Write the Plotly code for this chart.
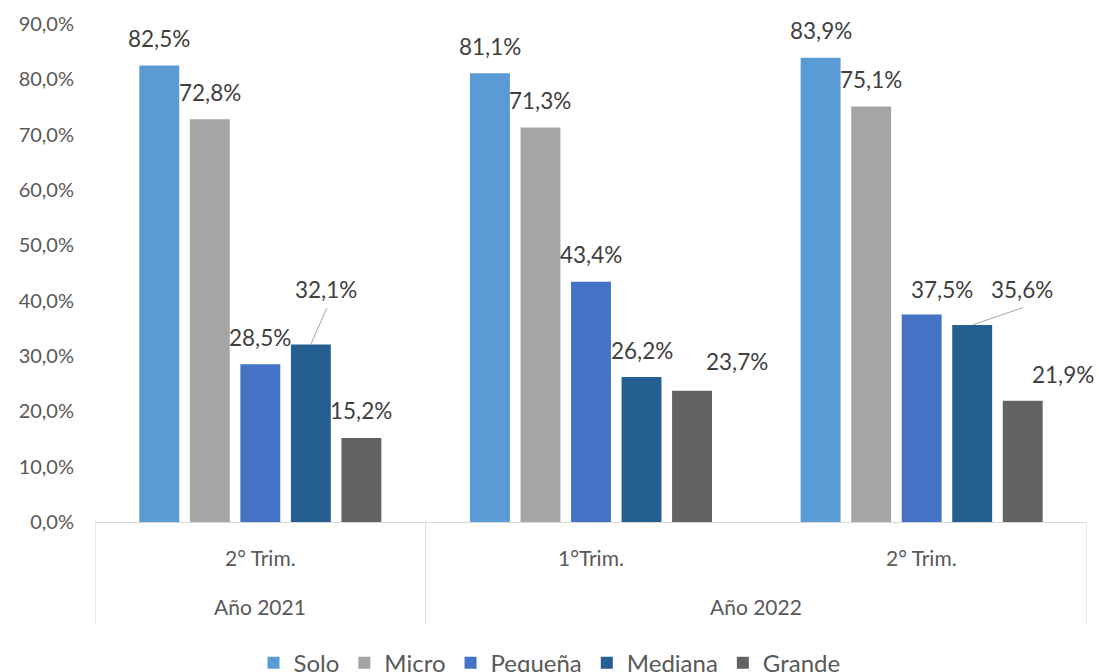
import plotly.graph_objects as go

# ---- data ----
years = ["Año 2021", "Año 2022", "Año 2022"]
quarters = ["2° Trim.", "1°Trim.", "2° Trim."]
series_names = ["Solo", "Micro", "Pequeña", "Mediana", "Grande"]
solo = [82.5, 81.1, 83.9]
micro = [72.8, 71.3, 75.1]
pequena = [28.5, 43.4, 37.5]
mediana = [32.1, 26.2, 35.6]
grande = [15.2, 23.7, 21.9]
series_values = [solo, micro, pequena, mediana, grande]

# ---- styling ----
colors = ["#5B9BD5", "#A5A5A5", "#4472C4", "#255E91", "#636363"]
FONT = "Lato"
BARGAP = 0.236
BARGROUPGAP = 0.21
# label offsets (px): (series index, category index) -> (dx, dy_extra, leader)
label_offsets = {
    (3, 0): (15, 27.5, True),
    (4, 1): (45, 2.5, False),
    (2, 2): (20, -2, False),
    (3, 2): (50, 8.5, True),
    (4, 2): (40, -1, False),
}
BASE_DY = 27

keys = [f"{y} | {q}" for y, q in zip(years, quarters)]
n_series = len(series_names)

fig = go.Figure()
for name, vals, col in zip(series_names, series_values, colors):
    fig.add_trace(go.Bar(
        x=keys, y=[v / 100 for v in vals], name=name,
        marker=dict(color=col, line=dict(width=0)),
        hoverinfo="skip",
    ))

slot = (1 - BARGAP) / n_series
annotations = []
shapes = []
for k, vals in enumerate(series_values):
    for i, v in enumerate(vals):
        xpos = i - (1 - BARGAP) / 2 + (k + 0.5) * slot
        dx, dy_extra, leader = label_offsets.get((k, i), (0, 0, False))
        dy = BASE_DY + dy_extra
        txt = f"{v:.1f}%".replace(".", ",")
        annotations.append(dict(
            x=xpos, y=v / 100, xref="x", yref="y", text=txt, showarrow=False,
            xanchor="center", yanchor="middle", xshift=dx, yshift=dy,
            font=dict(family=FONT, size=22.5, color="#404040"),
        ))
        if leader:
            shapes.append(dict(
                type="line", xref="x", yref="y",
                xsizemode="pixel", ysizemode="pixel",
                xanchor=xpos, yanchor=v / 100,
                x0=0, y0=0, x1=dx + 1, y1=dy - 18,
                line=dict(color="#A6A6A6", width=1),
            ))

# quarter labels (first row)
for i, q in enumerate(quarters):
    annotations.append(dict(
        x=i, y=0, xref="x", yref="paper", text=q, showarrow=False,
        xanchor="center", yanchor="middle", yshift=-35,
        font=dict(family=FONT, size=21, color="#595959"),
    ))

# year labels (second row) and separators
groups = []
for i, y in enumerate(years):
    if groups and groups[-1][0] == y:
        groups[-1][1].append(i)
    else:
        groups.append((y, [i]))
bounds = [-0.5]
for y, idx in groups:
    annotations.append(dict(
        x=sum(idx) / len(idx), y=0, xref="x", yref="paper", text=y,
        showarrow=False, xanchor="center", yanchor="middle", yshift=-84,
        font=dict(family=FONT, size=21, color="#595959"),
    ))
    bounds.append(idx[-1] + 0.5)
for b in bounds:
    shapes.append(dict(
        type="line", xref="x", yref="paper", ysizemode="pixel", yanchor=0,
        x0=b, x1=b, y0=0, y1=-103, line=dict(color="#D9D9D9", width=1),
    ))

fig.update_layout(
    width=1099, height=672,
    margin=dict(l=95, r=12, t=24, b=150, autoexpand=False),
    paper_bgcolor="white", plot_bgcolor="white",
    barmode="group", bargap=BARGAP, bargroupgap=BARGROUPGAP,
    separators=", ",
    font=dict(family=FONT, color="#595959"),
    xaxis=dict(
        type="category", range=[-0.5, len(keys) - 0.5], automargin=False,
        showticklabels=False, showgrid=False, zeroline=False,
        showline=True, linecolor="#D9D9D9", linewidth=1, ticks="",
    ),
    yaxis=dict(
        range=[0, 0.9], dtick=0.1, tick0=0, tickformat=".1%", automargin=False,
        showgrid=False, zeroline=False, showline=False, ticks="",
        ticklabelstandoff=20,
        tickfont=dict(family=FONT, size=20, color="#595959"),
    ),
    legend=dict(
        orientation="h", xref="container", yref="container",
        x=0.5, xanchor="center", y=0.013, yanchor="middle",
        font=dict(family=FONT, size=24, color="#595959"),
        itemwidth=30, traceorder="normal",
    ),
    annotations=annotations,
    shapes=shapes,
    showlegend=True,
)

fig.write_html(
    "out.html",
    config={"displayModeBar": False, "staticPlot": True},
    post_script="document.body.style.margin='0px';document.body.style.overflow='hidden';",
)
